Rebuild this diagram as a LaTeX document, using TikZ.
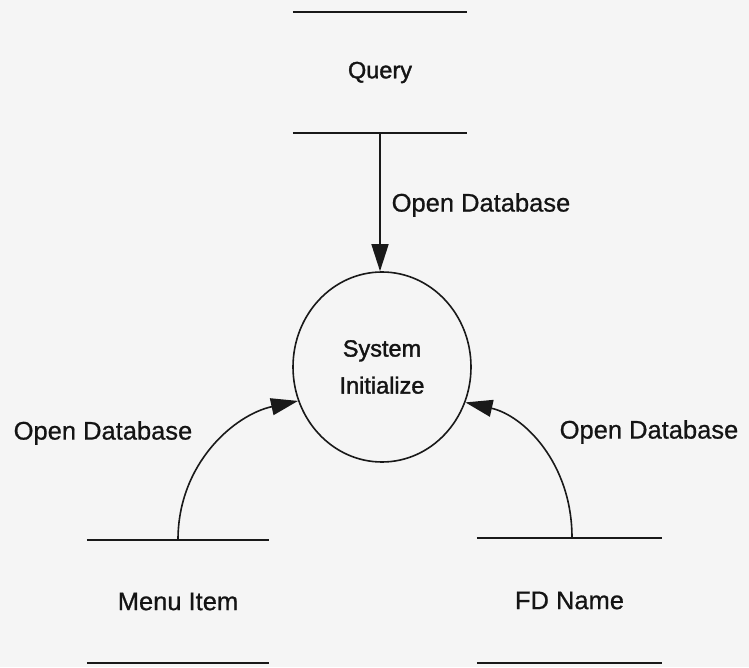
\documentclass[tikz,border=0pt]{standalone}
\usepackage{fontspec}
\setmainfont{Liberation Sans}
\newfontfamily\inkfont[FakeBold=0.7]{Liberation Sans}
\newfontfamily\heavyfont[FakeBold=1.5]{Liberation Sans}
\usetikzlibrary{arrows.meta,shapes.geometric}

\tikzset{
  flowline/.style={line width=1.6pt, draw=black!90,
    -{Triangle[length=27pt,width=17pt]}},
  storebox/.style={rectangle, inner sep=0pt, font=\inkfont\fontsize{25.5}{30}\selectfont},
  storeline/.style={line width=1.6pt, draw=black!90},
  process/.style={ellipse, draw=black!90, line width=1.6pt, inner sep=0pt,
    minimum width=178pt, minimum height=190pt, align=center,
    font=\heavyfont\fontsize{23.5}{37}\selectfont},
  flowlabel/.style={inner sep=0pt, font=\inkfont\fontsize{25.5}{30}\selectfont}
}

\begin{document}
\begin{tikzpicture}[x=1pt,y=1pt, text=black!92]
  % page frame
  \fill[black!4] (0,0) rectangle (749,667);
  \useasboundingbox (0,0) rectangle (749,667);

  % data stores
  \node[storebox, minimum width=174pt, minimum height=121pt,
        font=\heavyfont\fontsize{23.5}{28}\selectfont] (query) at (380,594.5) {Query};
  \node[storebox, minimum width=182pt, minimum height=123pt] (menu) at (178,65.5) {Menu Item};
  \node[storebox, minimum width=185pt, minimum height=125pt] (fdname) at (569.5,66.5) {FD Name};
  \foreach \s in {query,menu,fdname}{
    \draw[storeline] (\s.north west) -- (\s.north east);
    \draw[storeline] (\s.south west) -- (\s.south east);
  }

  % process
  \node[process] (sys) at (382,300) {System\\Initialize};

  % data flows
  \draw[flowline] (query.south) -- (query.south |- sys.north);
  \draw[flowline] (menu.north) .. controls +(0,76) and +(-64,-14) .. (sys.202);
  \draw[flowline] ([xshift=2.5pt]fdname.north) .. controls +(0,75) and +(58,-13) .. (sys.-23);

  % flow labels
  \node[flowlabel] (ltop) at (481,462) {Open Database};
  \node[flowlabel] (lleft) at (103,234) {Open Database};
  \node[flowlabel] (lright) at (649,235) {Open Database};
\end{tikzpicture}
\end{document}
